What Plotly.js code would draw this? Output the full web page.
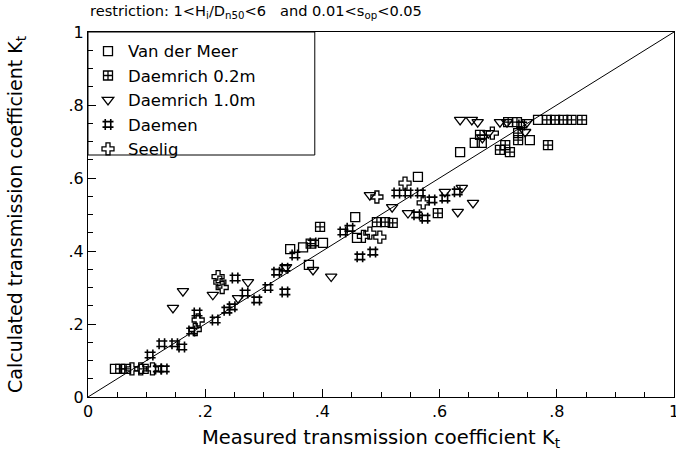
<!DOCTYPE html>
<html>
<head>
<meta charset="utf-8">
<script src="https://cdn.plot.ly/plotly-3.0.1.min.js"></script>
<style>html,body{margin:0;padding:0;background:#fff;}#chart{width:676px;height:453px;}</style>
</head>
<body>
<div id="chart"></div>
<script>
// Van der Meer (open squares)
const vdmX = [0.046, 0.345, 0.367, 0.377, 0.401, 0.456, 0.459, 0.563, 0.635, 0.660, 0.672, 0.754, 0.768];
const vdmY = [0.077, 0.405, 0.410, 0.362, 0.422, 0.493, 0.436, 0.603, 0.671, 0.696, 0.696, 0.704, 0.759];
// Daemrich 0.2m (boxed plus)
const d02X = [0.055, 0.065, 0.095, 0.396, 0.380, 0.493, 0.507, 0.520, 0.597, 0.669, 0.703, 0.720, 0.734, 0.734, 0.717, 0.732, 0.783, 0.797, 0.811, 0.825, 0.843, 0.785, 0.712];
const d02Y = [0.077, 0.077, 0.077, 0.466, 0.420, 0.479, 0.479, 0.477, 0.504, 0.718, 0.677, 0.671, 0.723, 0.704, 0.753, 0.753, 0.759, 0.759, 0.759, 0.759, 0.759, 0.690, 0.690];
// Daemrich 1.0m (open down triangles)
const d10X = [0.145, 0.162, 0.213, 0.256, 0.273, 0.338, 0.384, 0.415, 0.481, 0.519, 0.546, 0.609, 0.638, 0.631, 0.657, 0.635, 0.655, 0.665, 0.703, 0.715, 0.749, 0.683, 0.746, 0.673];
const d10Y = [0.244, 0.290, 0.280, 0.271, 0.315, 0.356, 0.348, 0.330, 0.553, 0.520, 0.504, 0.562, 0.573, 0.507, 0.532, 0.759, 0.759, 0.753, 0.753, 0.753, 0.753, 0.723, 0.726, 0.710];
// Daemen (hash)
const dmX = [0.120, 0.130, 0.106, 0.126, 0.148, 0.160, 0.177, 0.186, 0.217, 0.237, 0.246, 0.251, 0.268, 0.288, 0.307, 0.322, 0.336, 0.336, 0.353, 0.384, 0.435, 0.447, 0.464, 0.486, 0.527, 0.546, 0.567, 0.561, 0.575, 0.587, 0.609, 0.630, 0.740];
const dmY = [0.077, 0.077, 0.115, 0.146, 0.146, 0.137, 0.181, 0.230, 0.211, 0.238, 0.247, 0.326, 0.285, 0.266, 0.300, 0.342, 0.353, 0.288, 0.389, 0.422, 0.452, 0.462, 0.384, 0.397, 0.559, 0.559, 0.559, 0.499, 0.490, 0.540, 0.545, 0.562, 0.745];
// Seelig (open crosses)
const seX = [0.075, 0.090, 0.110, 0.188, 0.183, 0.222, 0.225, 0.229, 0.481, 0.498, 0.470, 0.493, 0.541, 0.572, 0.690];
const seY = [0.077, 0.077, 0.077, 0.211, 0.185, 0.330, 0.315, 0.300, 0.449, 0.438, 0.440, 0.548, 0.586, 0.532, 0.723];
// perfect agreement line
const lineX = [0, 1];
const lineY = [0, 1];
// ticks
const tickVals = [0, 0.2, 0.4, 0.6, 0.8, 1];
const tickText = ['0', '.2', '.4', '.6', '.8', '1'];
const minorVals = [];
for (let i = 1; i < 20; i++) { if (i % 4 !== 0) minorVals.push(i * 0.05); }

const FONT = 'DejaVu Sans, sans-serif';
function mk(sym, size, w) {
  return {symbol: sym, size: size, color: '#000', line: {color: '#000', width: w}};
}
const traces = [
  {x: lineX, y: lineY, mode: 'lines', line: {color: '#000', width: 1}, showlegend: false, hoverinfo: 'skip'},
  {x: vdmX, y: vdmY, mode: 'markers', name: 'Van der Meer', marker: mk('square-open', 9, 1.3)},
  {x: d02X, y: d02Y, mode: 'markers', name: 'Daemrich 0.2m', marker: mk('square-cross-open', 9, 1.3)},
  {x: d10X, y: d10Y, mode: 'markers', name: 'Daemrich 1.0m', marker: mk('triangle-down-open', 10, 1.3)},
  {x: dmX, y: dmY, mode: 'markers', name: 'Daemen', marker: mk('hash-open', 11, 1.6)},
  {x: seX, y: seY, mode: 'markers', name: 'Seelig', marker: mk('cross-open', 10, 1.3)}
];
const axisCommon = {
  range: [0, 1], tickmode: 'array', tickvals: tickVals, ticktext: tickText,
  ticks: 'inside', ticklen: 8, tickcolor: '#000', tickwidth: 1,
  minor: {tickmode: 'array', tickvals: minorVals, ticks: 'inside', ticklen: 5, tickcolor: '#000', tickwidth: 1},
  showgrid: false, zeroline: false, showline: true, mirror: true,
  linecolor: '#000', linewidth: 1, ticklabeloverflow: 'allow',
  tickfont: {family: FONT, size: 16, color: '#000'}
};
const layout = {
  width: 676, height: 453,
  margin: {l: 88, r: 2, t: 32, b: 56},
  paper_bgcolor: '#fff', plot_bgcolor: '#fff',
  font: {family: FONT, color: '#000'},
  xaxis: Object.assign({}, axisCommon, {
    title: {text: 'Measured transmission coefficient K<sub>t</sub>', font: {family: FONT, size: 19.5, color: '#000'}, standoff: 10}
  }),
  yaxis: Object.assign({}, axisCommon, {
    title: {text: 'Calculated transmission coefficient K<sub>t</sub>', font: {family: FONT, size: 19, color: '#000'}, standoff: 40}
  }),
  showlegend: true,
  legend: {x: 0.0, y: 0.995, xanchor: 'left', yanchor: 'top', bgcolor: 'rgba(255,255,255,0)',
    borderwidth: 0, font: {family: FONT, size: 16.5, color: '#000'}, tracegroupgap: 0},
  shapes: [
    {type: 'rect', xref: 'paper', yref: 'paper', x0: 0, x1: 0.387, y0: 0.663, y1: 1,
     line: {color: '#000', width: 1}, fillcolor: 'rgba(255,255,255,0)'}
  ],
  annotations: [
    {xref: 'paper', yref: 'paper', x: 0.0, y: 1, xanchor: 'left', yanchor: 'bottom', yshift: 9, showarrow: false,
     text: 'restriction: 1&lt;H<sub>i</sub>/D<sub>n50</sub>&lt;6   and 0.01&lt;s<sub>op</sub>&lt;0.05',
     font: {family: FONT, size: 14.6, color: '#000'}}
  ]
};
Plotly.newPlot('chart', traces, layout, {displayModeBar: false, staticPlot: true});
</script>
</body>
</html>
